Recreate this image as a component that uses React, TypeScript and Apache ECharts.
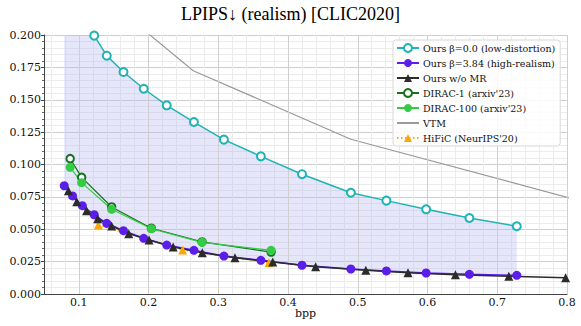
import React, { useEffect, useRef } from "react";
import * as echarts from "echarts";

// Shared bpp for both "Ours" curves
const oursBpp = [0.079, 0.091, 0.105, 0.122, 0.14, 0.164, 0.193, 0.226, 0.265, 0.308, 0.361, 0.42, 0.49, 0.541, 0.598, 0.66, 0.728];
const oursLowDist = [0.255, 0.235, 0.217, 0.1995, 0.184, 0.1714, 0.1585, 0.1457, 0.1328, 0.1192, 0.1063, 0.0925, 0.0782, 0.0721, 0.0654, 0.0587, 0.0523];
const oursHighReal = [0.0836, 0.0757, 0.0682, 0.0612, 0.0546, 0.0489, 0.043, 0.0378, 0.0337, 0.0293, 0.026, 0.0222, 0.0193, 0.0178, 0.0162, 0.0152, 0.0144];

const noMrBpp = [0.085, 0.097, 0.111, 0.127, 0.147, 0.1715, 0.2007, 0.2353, 0.277, 0.3238, 0.378, 0.4395, 0.5115, 0.572, 0.64, 0.7166, 0.798];
const noMrLpips = [0.0798, 0.0713, 0.0643, 0.0581, 0.0525, 0.0466, 0.0417, 0.0363, 0.0319, 0.028, 0.0247, 0.0211, 0.0183, 0.0165, 0.0149, 0.0137, 0.0126];

const diracBpp = [0.0875, 0.104, 0.147, 0.204, 0.2767, 0.3757];
const dirac1 = [0.1045, 0.0901, 0.0672, 0.0508, 0.0402, 0.0324];
const dirac100 = [0.0978, 0.086, 0.0654, 0.0504, 0.0399, 0.0337];

const vtmBpp = [0.16, 0.264, 0.49, 0.85];
const vtmLpips = [0.2187, 0.1724, 0.1195, 0.0675];

const hificBpp = [0.128, 0.2488, 0.3727];
const hificLpips = [0.0533, 0.034, 0.0242];

const xTickLabels = [0.1, 0.2, 0.3, 0.4, 0.5, 0.6, 0.7, 0.8];
const xMinorGrid: number[] = [];
for (let i = 3; i <= 40; i++) {
  if (i % 5 !== 0) xMinorGrid.push(+(i * 0.02).toFixed(2));
}

const names = [
  "Ours β=0.0 (low-distortion)",
  "Ours β=3.84 (high-realism)",
  "Ours w/o MR",
  "DIRAC-1 (arxiv'23)",
  "DIRAC-100 (arxiv'23)",
  "VTM",
  "HiFiC (NeurIPS'20)",
];

const zip = (xs: number[], ys: number[]) => xs.map((x, i) => [x, ys[i]]);

const SERIF = "'DejaVu Serif', serif";

export default function App() {
  const ref = useRef<HTMLDivElement>(null);
  useEffect(() => {
    if (!ref.current) return;
    const chart = echarts.init(ref.current, null, { renderer: "svg" });
    const gridLeft = 44, gridTop = 35, gridRight = 14, gridBottom = 32;
    chart.setOption({
      animation: false,
      title: {
        text: "LPIPS↓ (realism) [CLIC2020]",
        left: "center",
        top: 5,
        padding: 0,
        textStyle: { fontFamily: "'Liberation Serif', serif", fontSize: 18, fontWeight: "normal", color: "#000" },
      },
      grid: { left: gridLeft, right: gridRight, top: gridTop, bottom: gridBottom, outerBoundsMode: "none", containLabel: false },
      legend: {
        data: names.map((n) => (n === "VTM" ? { name: n, itemStyle: { opacity: 0 } } : n)),
        orient: "vertical",
        left: 393,
        top: 40,
        padding: [3, 5, 3, 3],
        itemWidth: 22,
        itemHeight: 10,
        itemGap: 5,
        backgroundColor: "rgba(255,255,255,0.85)",
        borderColor: "#d8d8d8",
        borderWidth: 1,
        borderRadius: 3,
        textStyle: { fontFamily: SERIF, fontSize: 9.5, color: "#111", lineHeight: 10, padding: [0, 0, 0, -1] },
      },
      xAxis: [
        {
          type: "value",
          min: 0.05,
          max: 0.8,
          name: "bpp",
          nameLocation: "middle",
          nameGap: 14,
          nameMoveOverlap: false,
          nameTextStyle: { fontFamily: SERIF, fontSize: 11, color: "#111", verticalAlign: "top" },
          axisLine: { show: true, lineStyle: { color: "#444", width: 1 } },
          axisTick: { show: false, customValues: xTickLabels },
          axisLabel: {
            customValues: xTickLabels,
            fontFamily: SERIF,
            fontSize: 11,
            color: "#111",
            margin: 3,
            formatter: (v: number) => String(+v.toFixed(2)),
          },
          splitLine: { show: true, lineStyle: { color: "#cfcfcf", width: 1 } },
          z: 3,
        },
        {
          type: "value",
          min: 0.05,
          max: 0.8,
          position: "bottom",
          axisLine: { show: false },
          axisTick: { show: false, customValues: xMinorGrid },
          axisLabel: { show: false, customValues: xMinorGrid },
          splitLine: { show: true, lineStyle: { color: "#ececec", width: 1 } },
          z: 1,
        },
      ],
      yAxis: {
        type: "value",
        min: 0,
        max: 0.2,
        interval: 0.025,
        axisLine: { show: true, lineStyle: { color: "#444", width: 1 } },
        axisTick: { show: true, length: 3, lineStyle: { color: "#444" } },
        minorTick: { show: true, splitNumber: 5, length: 2, lineStyle: { color: "#666" } },
        axisLabel: {
          fontFamily: SERIF,
          fontSize: 11,
          color: "#111",
          margin: 3,
          formatter: (v: number) => v.toFixed(3),
        },
        splitLine: { show: true, lineStyle: { color: "#cfcfcf", width: 1 } },
        minorSplitLine: { show: true, lineStyle: { color: "#ececec", width: 1 } },
      },
      series: [
        {
          name: "band",
          type: "custom",
          silent: true,
          z: 1,
          data: [[oursBpp[0], oursHighReal[0]]],
          renderItem: (params: any, api: any) => {
            const top = oursBpp.map((x, i) => api.coord([x, oursLowDist[i]]));
            const bottom = oursBpp.map((x, i) => api.coord([x, oursHighReal[i]])).reverse();
            const cs = params.coordSys;
            return {
              type: "polygon",
              shape: { points: top.concat(bottom) },
              style: { fill: "rgba(180,180,242,0.33)", stroke: "none" },
              clipPath: { type: "rect", shape: { x: cs.x, y: cs.y, width: cs.width, height: cs.height } },
            };
          },
        },
        {
          name: names[5],
          type: "line",
          data: zip(vtmBpp, vtmLpips),
          symbol: "none",
          color: "#9a9a9a",
          lineStyle: { width: 1.2, color: "#9a9a9a" },
          z: 2,
        },
        {
          name: names[0],
          type: "line",
          data: zip(oursBpp, oursLowDist),
          symbol: "emptyCircle",
          symbolSize: 8,
          color: "#1fb3b3",
          lineStyle: { width: 1.5, color: "#1fb3b3" },
          itemStyle: { color: "#1fb3b3", borderWidth: 2 },
          z: 3,
        },
        {
          name: names[6],
          type: "line",
          data: zip(hificBpp, hificLpips),
          symbol: "triangle",
          symbolSize: 9,
          color: "#f7a90c",
          lineStyle: { width: 1.5, type: [1.5, 2.5], color: "#f7a90c" },
          itemStyle: { color: "#f7a90c" },
          z: 3,
        },
        {
          name: names[1],
          type: "line",
          data: zip(oursBpp, oursHighReal),
          symbol: "circle",
          symbolSize: 9,
          color: "#5b1de8",
          lineStyle: { width: 1.5, color: "#5b1de8" },
          itemStyle: { color: "#5b1de8" },
          z: 3,
        },
        {
          name: names[2],
          type: "line",
          data: zip(noMrBpp, noMrLpips),
          symbol: "triangle",
          symbolSize: 9,
          color: "#2b2b2b",
          lineStyle: { width: 1.5, color: "#2b2b2b" },
          itemStyle: { color: "#2b2b2b" },
          z: 3,
        },
        {
          name: names[3],
          type: "line",
          data: zip(diracBpp, dirac1),
          symbol: "emptyCircle",
          symbolSize: 7.5,
          color: "#17701c",
          lineStyle: { width: 1.2, color: "#17701c" },
          itemStyle: { color: "#17701c", borderWidth: 2 },
          z: 3,
        },
        {
          name: names[4],
          type: "line",
          data: zip(diracBpp, dirac100),
          symbol: "circle",
          symbolSize: 9,
          color: "#33cc44",
          lineStyle: { width: 1.2, color: "#33cc44" },
          itemStyle: { color: "#33cc44" },
          z: 3,
        },
      ],
    });
    return () => chart.dispose();
  }, []);
  return <div ref={ref} style={{ width: 581, height: 326, position: "absolute", left: 0, top: 0 }} />;
}
